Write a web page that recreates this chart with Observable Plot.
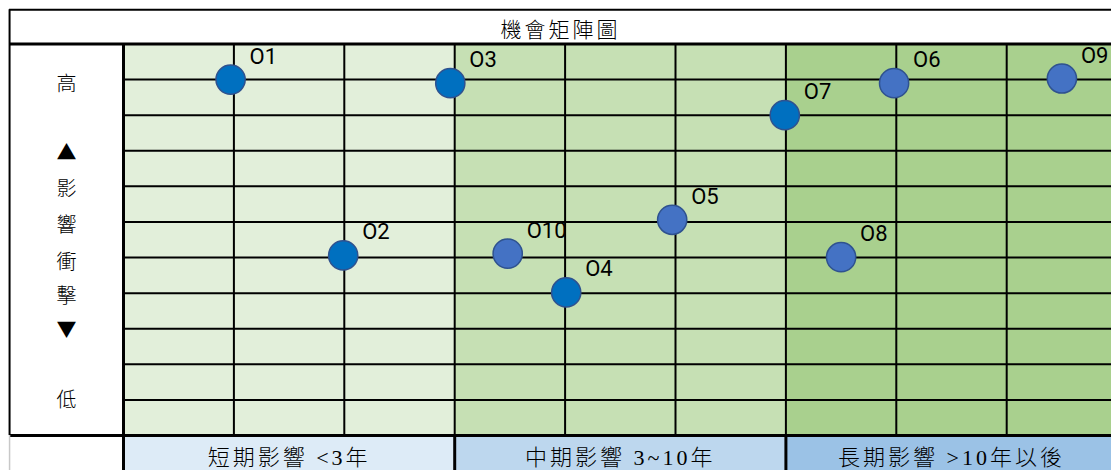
<!DOCTYPE html>
<html>
<head>
<meta charset="utf-8">
<script src="https://cdn.jsdelivr.net/npm/d3@7"></script>
<script src="https://cdn.jsdelivr.net/npm/@observablehq/plot@0.6"></script>
<style>
  html, body { margin: 0; padding: 0; background: #fff; }
  #chart svg { display: block; }
</style>
</head>
<body>
<div id="chart"></div>
<script>
// ---------- data ----------
const chartTitle = "機會矩陣圖";
const termBands = ["短期影響 <3年", "中期影響 3~10年", "長期影響 >10年以後"];
const impactTickLabels = ["高", "▲", "影", "響", "衝", "擊", "▼", "低"];
const impactTickValues = [9.87, 7.92, 6.91, 5.9, 4.87, 3.89, 2.95, 0.98];

const opportunities = ["O1", "O2", "O3", "O4", "O5", "O6", "O7", "O8", "O9", "O10"];
const timeframe     = [0.97, 1.99, 2.96, 4.01, 4.97, 6.98, 5.99, 6.5, 8.5, 3.48];
const impact        = [10.0, 5.06, 9.9, 4.02, 6.06, 9.9, 9.0, 5.01, 10.03, 5.11];
const group         = ["A", "A", "A", "A", "B", "B", "A", "B", "B", "B"];

// ---------- derived tables ----------
const points = opportunities.map((name, i) => ({name, x: timeframe[i], y: impact[i], group: group[i]}));
const bands = termBands.map((label, i) => ({label, x1: i * 3, x2: i * 3 + 3, mid: i * 3 + 1.5}));
const impactTicks = impactTickLabels.map((t, i) => ({t, y: impactTickValues[i]}));

// ---------- styles / layout ----------
const greens = ["#E2EFDA", "#C6E0B4", "#A9D08E"];
const blues  = ["#DDEBF7", "#BDD7EE", "#9BC2E6"];
const groupFill = {A: "#0070C0", B: "#4472C4"};
const COLS = 9, ROWS = 11;
const X_LEFT = -1.032, X_RIGHT = 9;
const Y_TOP = 11.96, Y_BOTTOM = -1.3;
const CJK = "'Noto Sans CJK TC', 'Noto Sans CJK SC', sans-serif";
const CJK_SERIF = "'Liberation Serif', 'Noto Sans CJK TC', serif";

const colLines = d3.range(1, COLS);
const rowLines = d3.range(1, ROWS);

const marks = [
  // green impact bands
  ...bands.map((b, i) => Plot.rect([b], {x1: "x1", x2: "x2", y1: 0, y2: ROWS, fill: greens[i]})),
  // blue term label row
  ...bands.map((b, i) => Plot.rect([b], {x1: "x1", x2: "x2", y1: Y_BOTTOM, y2: 0, fill: blues[i]})),
  // inner grid
  Plot.ruleX(colLines, {x: d => d, y1: 0, y2: ROWS, stroke: "#000", strokeWidth: 2}),
  Plot.ruleY(rowLines, {y: d => d, x1: 0, x2: COLS, stroke: "#000", strokeWidth: 2}),
  // frame lines
  Plot.ruleY([Y_TOP], {x1: X_LEFT, x2: X_RIGHT, stroke: "#000", strokeWidth: 2}),
  Plot.ruleY([ROWS], {x1: X_LEFT, x2: X_RIGHT, stroke: "#000", strokeWidth: 3.2}),
  Plot.ruleY([0], {x1: X_LEFT, x2: X_RIGHT, stroke: "#000", strokeWidth: 3}),
  Plot.ruleX([X_LEFT], {y1: 0, y2: Y_TOP, stroke: "#000", strokeWidth: 2}),
  Plot.ruleX([X_LEFT], {y1: Y_BOTTOM, y2: 0, stroke: "#c8c8c8", strokeWidth: 1.5}),
  Plot.ruleX([0], {y1: Y_BOTTOM, y2: ROWS, stroke: "#000", strokeWidth: 3}),
  Plot.ruleX([3, 6], {x: d => d, y1: Y_BOTTOM, y2: 0, stroke: "#000", strokeWidth: 3}),
  // title
  Plot.text([chartTitle], {x: (X_LEFT + 8.95) / 2, y: 11.38, text: d => d, fontSize: 21, fontWeight: 300, fontFamily: CJK, fill: "#000"}),
  // vertical impact axis labels
  Plot.text(impactTicks, {x: X_LEFT / 2, y: "y", text: "t", fontSize: 20, fontWeight: 300, fontFamily: CJK, fill: "#000"}),
  // term labels
  Plot.text(bands, {x: "mid", y: -0.62, text: "label", fontSize: 22, fontWeight: 300, fontFamily: CJK_SERIF, fill: "#000"}),
  // opportunity points
  ...Object.keys(groupFill).map(g => Plot.dot(points.filter(d => d.group === g), {
    x: "x", y: "y", r: 14.6, fill: groupFill[g], stroke: "#2F528F", strokeWidth: 1.5
  })),
  Plot.text(points, {x: "x", y: "y", text: "name", dx: 19, dy: -16, lineAnchor: "bottom", textAnchor: "start",
    fontSize: 22, fontFamily: "Roboto, 'Open Sans', sans-serif", fill: "#000"})
];

const svg = Plot.plot({
  width: 1111,
  height: 470,
  margin: 0,
  x: {type: "linear", domain: [0, COLS], range: [123, 123 + COLS * 110.4], axis: null},
  y: {type: "linear", domain: [0, ROWS], range: [435, 43.5], axis: null},
  style: {background: "#fff", overflow: "visible"},
  marks
});

d3.select(svg).selectAll("text")
  .filter(function () { return this.textContent === chartTitle; })
  .style("letter-spacing", "3px");
d3.select(svg).selectAll("text")
  .filter(function () { return termBands.includes(this.textContent); })
  .style("letter-spacing", "3px");

document.getElementById("chart").appendChild(svg);
</script>
</body>
</html>
